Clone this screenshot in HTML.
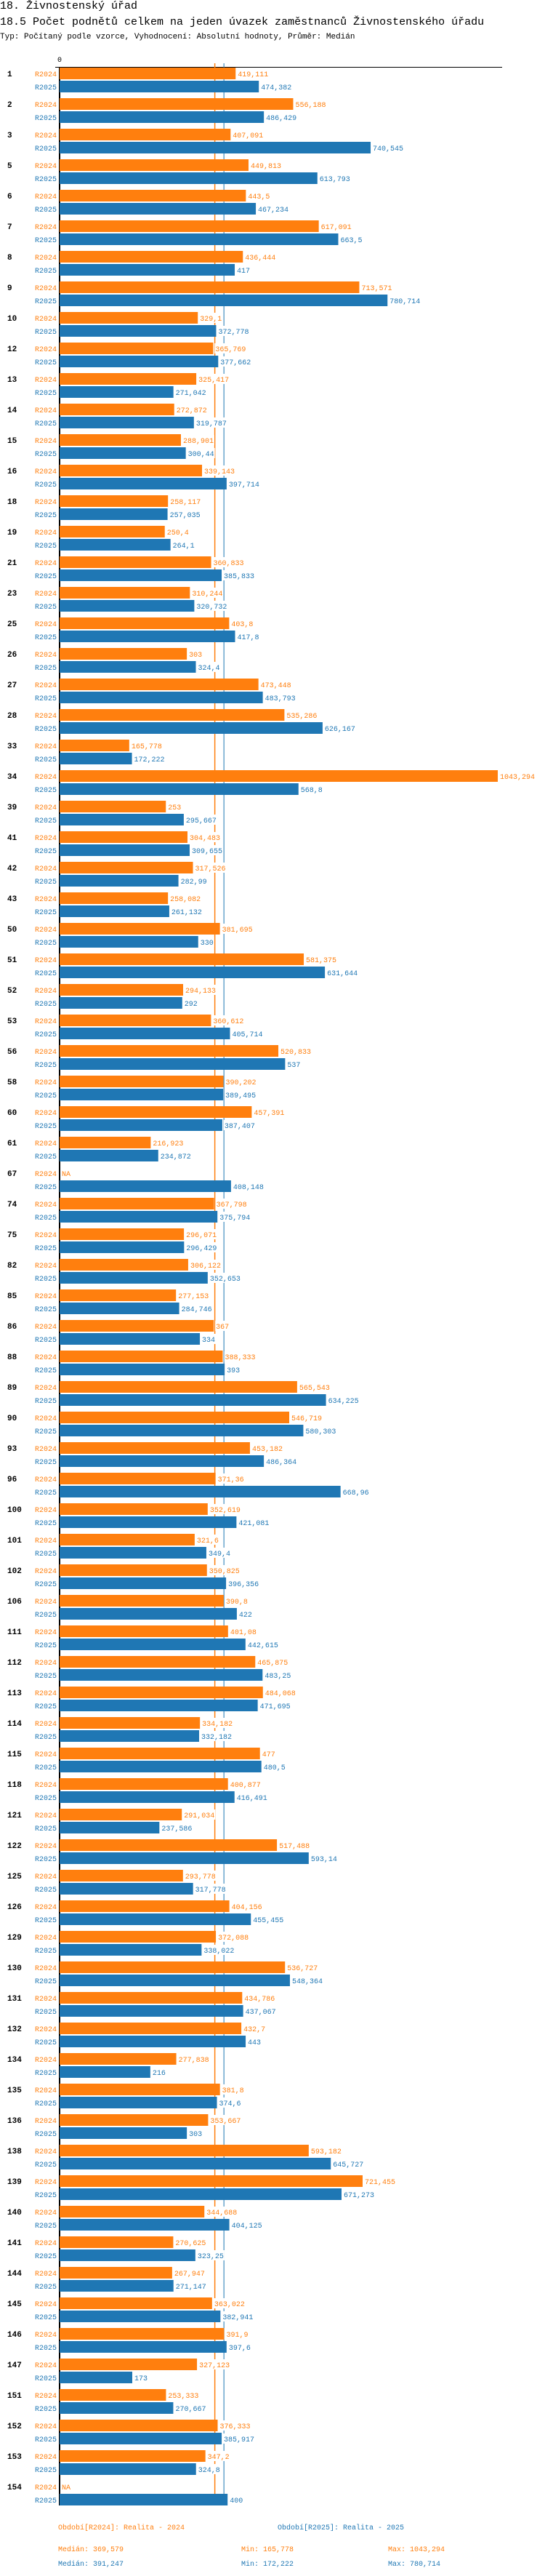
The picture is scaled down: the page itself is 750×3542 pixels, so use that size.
<!DOCTYPE html>
<html><head><meta charset="utf-8">
<style>
html,body{margin:0;padding:0;background:#fff;}
body{width:750px;height:3542px;overflow:hidden;position:relative;font-family:"Liberation Mono","DejaVu Sans Mono",monospace;}
.t{position:absolute;left:0;white-space:nowrap;color:#000;}
svg{position:absolute;left:0;top:0;}
</style></head>
<body>
<div class="t" style="top:0px;font-size:15px;line-height:17px;">18. Živnostenský úřad</div>
<div class="t" style="top:22px;font-size:15px;line-height:17px;">18.5 Počet podnětů celkem na jeden úvazek zaměstnanců Živnostenského úřadu</div>
<div class="t" style="top:45px;font-size:11px;line-height:13px;">Typ: Počítaný podle vzorce, Vyhodnocení: Absolutní hodnoty, Průměr: Medián</div>
<svg id="chart" width="750" height="3542" xmlns="http://www.w3.org/2000/svg"></svg>
<script>
const categories = ["1","2","3","5","6","7","8","9","10","12","13","14","15","16","18","19","21","23","25","26","27","28","33","34","39","41","42","43","50","51","52","53","56","58","60","61","67","74","75","82","85","86","88","89","90","93","96","100","101","102","106","111","112","113","114","115","118","121","122","125","126","129","130","131","132","134","135","136","138","139","140","141","144","145","146","147","151","152","153","154"];
const values2024 = [419.111,556.188,407.091,449.813,443.5,617.091,436.444,713.571,329.1,365.769,325.417,272.872,288.901,339.143,258.117,250.4,360.833,310.244,403.8,303,473.448,535.286,165.778,1043.294,253,304.483,317.526,258.082,381.695,581.375,294.133,360.612,520.833,390.202,457.391,216.923,null,367.798,296.071,306.122,277.153,367,388.333,565.543,546.719,453.182,371.36,352.619,321.6,350.825,390.8,401.08,465.875,484.068,334.182,477,400.877,291.034,517.488,293.778,404.156,372.088,536.727,434.786,432.7,277.838,381.8,353.667,593.182,721.455,344.688,270.625,267.947,363.022,391.9,327.123,253.333,376.333,347.2,null];
const values2025 = [474.382,486.429,740.545,613.793,467.234,663.5,417,780.714,372.778,377.662,271.042,319.787,300.44,397.714,257.035,264.1,385.833,320.732,417.8,324.4,483.793,626.167,172.222,568.8,295.667,309.655,282.99,261.132,330,631.644,292,405.714,537,389.495,387.407,234.872,408.148,375.794,296.429,352.653,284.746,334,393,634.225,580.303,486.364,668.96,421.081,349.4,396.356,422,442.615,483.25,471.695,332.182,480.5,416.491,237.586,593.14,317.778,455.455,338.022,548.364,437.067,443,216,374.6,303,645.727,671.273,404.125,323.25,271.147,382.941,397.6,173,270.667,385.917,324.8,400];
const seriesNames = ["R2024","R2025"];
const medians = [369.579, 391.247];
const mins = [165.778, 172.222];
const maxs = [1043.294, 780.714];
const legendTexts = ["Období[R2024]: Realita - 2024","Období[R2025]: Realita - 2025"];

const COLORS = ["#ff7f0e","#1f77b4"];
const X0 = 82, PXU = 0.578, TOP = 93, PITCH = 42, BH = 16;
const svg = document.getElementById('chart');
const NS = "http://www.w3.org/2000/svg";
function xs(v){ return X0 + v*PXU; }
function fmt(v){ return String(Math.round(v*1000)/1000).replace('.',','); }
function mk(tag, attrs){ const e=document.createElementNS(NS,tag); for(const k in attrs) e.setAttribute(k,attrs[k]); svg.appendChild(e); return e; }
function txt(x,y,s,attrs){ const e=mk('text',Object.assign({x:x,y:y},attrs)); e.textContent=s; return e; }

const bottom = TOP + categories.length*PITCH - 8;
// axes
let e = mk('line',{x1:76,y1:92.5,x2:691,y2:92.5,stroke:'#000','stroke-width':1});


e = txt(82,85,'0',{'font-size':10,'text-anchor':'middle',fill:'#000','font-family':'Liberation Mono, monospace'});


// median lines
medians.forEach((m,s)=>{
  const l = mk('line',{x1:xs(m),y1:87,x2:xs(m),y2:bottom,stroke:COLORS[s],'stroke-width':s===0?1.5:1});
  
  
});
e = mk('line',{x1:82,y1:92,x2:82,y2:bottom,stroke:'#000','stroke-width':2});



categories.forEach((c,i)=>{
  const top = TOP + i*PITCH;
  const ct = txt(10, top+12, c, {'font-size':11,'font-weight':'bold',fill:'#000','font-family':'Liberation Mono, monospace'});
  
  
  [values2024[i], values2025[i]].forEach((v,s)=>{
    const y = top + s*18;
    const sl = txt(78, y+12, seriesNames[s], {'font-size':10,'text-anchor':'end',fill:COLORS[s],'font-family':'Liberation Mono, monospace'});
    
    
    let endX = X0;
    if (v !== null) {
      endX = xs(v);
      const b = mk('rect',{x:X0,y:y,width:endX-X0,height:BH,fill:COLORS[s]});
      
      
    }
    const label = v===null ? 'NA' : fmt(v);
    const lx = endX + 3;
    const bg = mk('rect',{x:lx-1,y:y+1,width:label.length*6+2,height:14,fill:'#fff'});
    
    
    const vt = txt(lx, y+12, label, {'font-size':10,fill:COLORS[s],'font-family':'Liberation Mono, monospace'});
    
    
  });
});

// footer
legendTexts.forEach((t,s)=>{
  const l = txt(s===0?80:382, 3478, t, {'font-size':10,fill:COLORS[s],'font-family':'Liberation Mono, monospace'});
  
  
});
[0,1].forEach(s=>{
  const y = 3508 + s*20;
  const a = txt(80, y, 'Medián: '+fmt(medians[s]), {'font-size':10,fill:COLORS[s],'font-family':'Liberation Mono, monospace'});
  
  
  const b = txt(332, y, 'Min: '+fmt(mins[s]), {'font-size':10,fill:COLORS[s],'font-family':'Liberation Mono, monospace'});
  
  
  const d = txt(534, y, 'Max: '+fmt(maxs[s]), {'font-size':10,fill:COLORS[s],'font-family':'Liberation Mono, monospace'});
  
  
});
</script>
</body></html>
